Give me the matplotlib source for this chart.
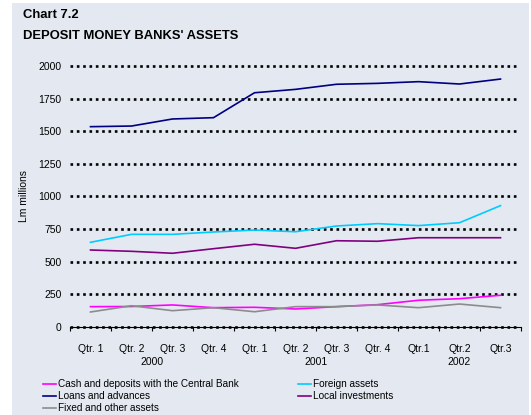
import matplotlib
matplotlib.use("Agg")
import matplotlib.pyplot as plt
from matplotlib.patches import Rectangle
from matplotlib.transforms import blended_transform_factory

plt.rcParams["font.family"] = ["Liberation Sans", "DejaVu Sans"]

QUARTERS = ["Qtr. 1", "Qtr. 2", "Qtr. 3", "Qtr. 4",
            "Qtr. 1", "Qtr. 2", "Qtr. 3", "Qtr. 4",
            "Qtr.1", "Qtr.2", "Qtr.3"]
YEARS = ["2000", "2001", "2002"]
YEAR_CENTERS = [1.5, 5.5, 9.0]

cash = [156, 157, 169, 148, 151, 138, 156, 171, 205, 217, 243]
loans = [1535, 1540, 1594, 1604, 1795, 1821, 1860, 1867, 1880, 1862, 1900]
foreign = [649, 710, 710, 728, 743, 730, 774, 792, 777, 799, 930]
local_inv = [590, 580, 565, 600, 634, 603, 661, 657, 684, 684, 684]
fixed = [115, 163, 125, 148, 117, 156, 156, 169, 148, 176, 148]

BG = "#e4e9f1"

fig = plt.figure(figsize=(5.31, 4.15), dpi=100)
fig.patch.set_facecolor("white")
fig.patches.append(Rectangle((12 / 531, 0), 517 / 531, 412 / 415,
                             transform=fig.transFigure, facecolor=BG,
                             edgecolor="none", zorder=-10))

ax = fig.add_axes([70 / 531, 1 - 327 / 415, 451 / 531, 261 / 415])
ax.set_facecolor("none")

x = list(range(len(QUARTERS)))
lines = [
    (cash, "#ff00ff", "Cash and deposits with the Central Bank"),
    (loans, "#000080", "Loans and advances"),
    (fixed, "#8c8c8c", "Fixed and other assets"),
    (foreign, "#00ccff", "Foreign assets"),
    (local_inv, "#800080", "Local investments"),
]

# dotted gridlines, stop a little short of the right end like the original
for yv in range(0, 2001, 250):
    ax.plot([-0.5, 10.4], [yv, yv], color="black", lw=1.9, ls=(0, (1, 1.4)),
            zorder=1, clip_on=False)

for vals, color, label in lines:
    ax.plot(x, vals, color=color, lw=1.2, label=label, zorder=3)

ax.set_xlim(-0.5, 10.5)
ax.set_ylim(0, 2000)
ax.set_yticks(range(0, 2001, 250))
ax.tick_params(axis="y", length=0, labelsize=7.5, pad=6)

ax.set_xticks([i - 0.5 for i in range(12)])
ax.set_xticklabels([])
ax.tick_params(axis="x", which="major", length=3, width=0.8, direction="out")
ax.set_xticks(x, minor=True)
ax.set_xticklabels(QUARTERS, minor=True)
ax.tick_params(axis="x", which="minor", length=0, labelsize=7.5, pad=12)

for s in ["top", "right", "left"]:
    ax.spines[s].set_visible(False)
ax.spines["bottom"].set_linewidth(0.8)

trans = blended_transform_factory(ax.transData, ax.transAxes)
for yr, cx in zip(YEARS, YEAR_CENTERS):
    ax.text(cx, -0.135, yr, transform=trans, ha="center", va="center", fontsize=7.5)

ax.set_ylabel("Lm millions", fontsize=7.5, labelpad=7)

fig.text(23 / 531, 1 - 15 / 415, "Chart 7.2", fontsize=9.4, fontweight="bold",
         ha="left", va="center")
fig.text(23 / 531, 1 - 36 / 415, "DEPOSIT MONEY BANKS' ASSETS", fontsize=9.4,
         fontweight="bold", ha="left", va="center")

leg = fig.legend(loc="upper left", bbox_to_anchor=(43 / 531, 1 - 379 / 415),
                 ncol=2, fontsize=7.2, frameon=False, handlelength=1.3,
                 handletextpad=0.15, labelspacing=0.22, columnspacing=6.0,
                 borderaxespad=0, borderpad=0)

fig.savefig("out.png", dpi=100)
